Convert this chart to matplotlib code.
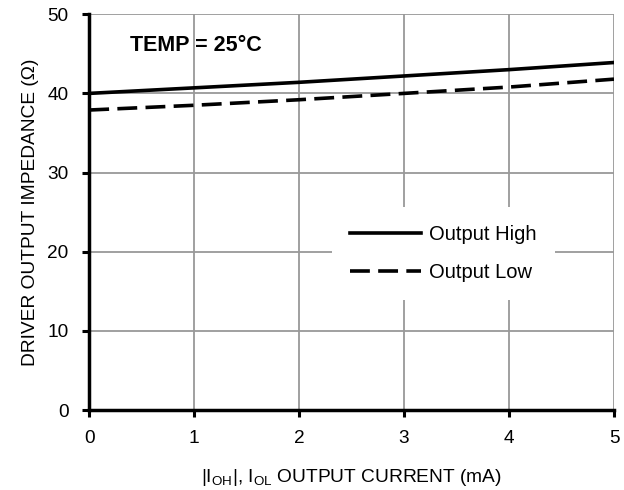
import matplotlib
matplotlib.use("Agg")
import matplotlib.pyplot as plt

plt.rcParams['font.family'] = ['Liberation Sans', 'DejaVu Sans']
plt.rcParams['mathtext.fontset'] = 'custom'
plt.rcParams['mathtext.rm'] = 'Liberation Sans'
plt.rcParams['mathtext.it'] = 'Liberation Sans'

# data
current_ma = [0, 1, 2, 3, 4, 5]
z_high = [40.0, 40.7, 41.4, 42.2, 43.0, 43.9]
z_low = [37.9, 38.5, 39.2, 40.0, 40.8, 41.8]
xticks = [0, 1, 2, 3, 4, 5]
yticks = [0, 10, 20, 30, 40, 50]

fig = plt.figure(figsize=(6.24, 4.9), dpi=100)
ax = fig.add_axes([0.143, 0.163, 0.841, 0.808])

ax.plot(current_ma, z_high, color='black', lw=2.6, label='Output High')
ax.plot(current_ma, z_low, color='black', lw=2.6, dashes=(5.5, 2.3), label='Output Low')

ax.set_xlim(0, 5)
ax.set_ylim(0, 50)
ax.set_xticks(xticks)
ax.set_yticks(yticks)
ax.grid(True, color='#999999', lw=1.3)
ax.set_axisbelow(True)

for s in ['top', 'right']:
    ax.spines[s].set_visible(False)
for s in ['left', 'bottom']:
    ax.spines[s].set_linewidth(2.5)
ax.tick_params(direction='out', length=5, width=2.2, labelsize=13.7)
ax.tick_params(axis='y', pad=10)
ax.tick_params(axis='x', pad=9)

ax.set_xlabel(r'$|\mathrm{I_{OH}}|$, $\mathrm{I_{OL}}$ OUTPUT CURRENT (mA)', fontsize=13.8, labelpad=15)
ax.set_ylabel('DRIVER OUTPUT IMPEDANCE (Ω)', fontsize=13.8, labelpad=6)

ax.text(0.39, 46.0, 'TEMP = 25°C', fontsize=15.5, fontweight='bold', va='center')

leg = ax.legend(loc='center', bbox_to_anchor=(0.675, 0.395), frameon=True, fontsize=14.5,
                handlelength=3.5, handletextpad=0.4, edgecolor='none', framealpha=1,
                fancybox=False, borderpad=0.9, labelspacing=0.95)

fig.savefig('out.png', dpi=100)
